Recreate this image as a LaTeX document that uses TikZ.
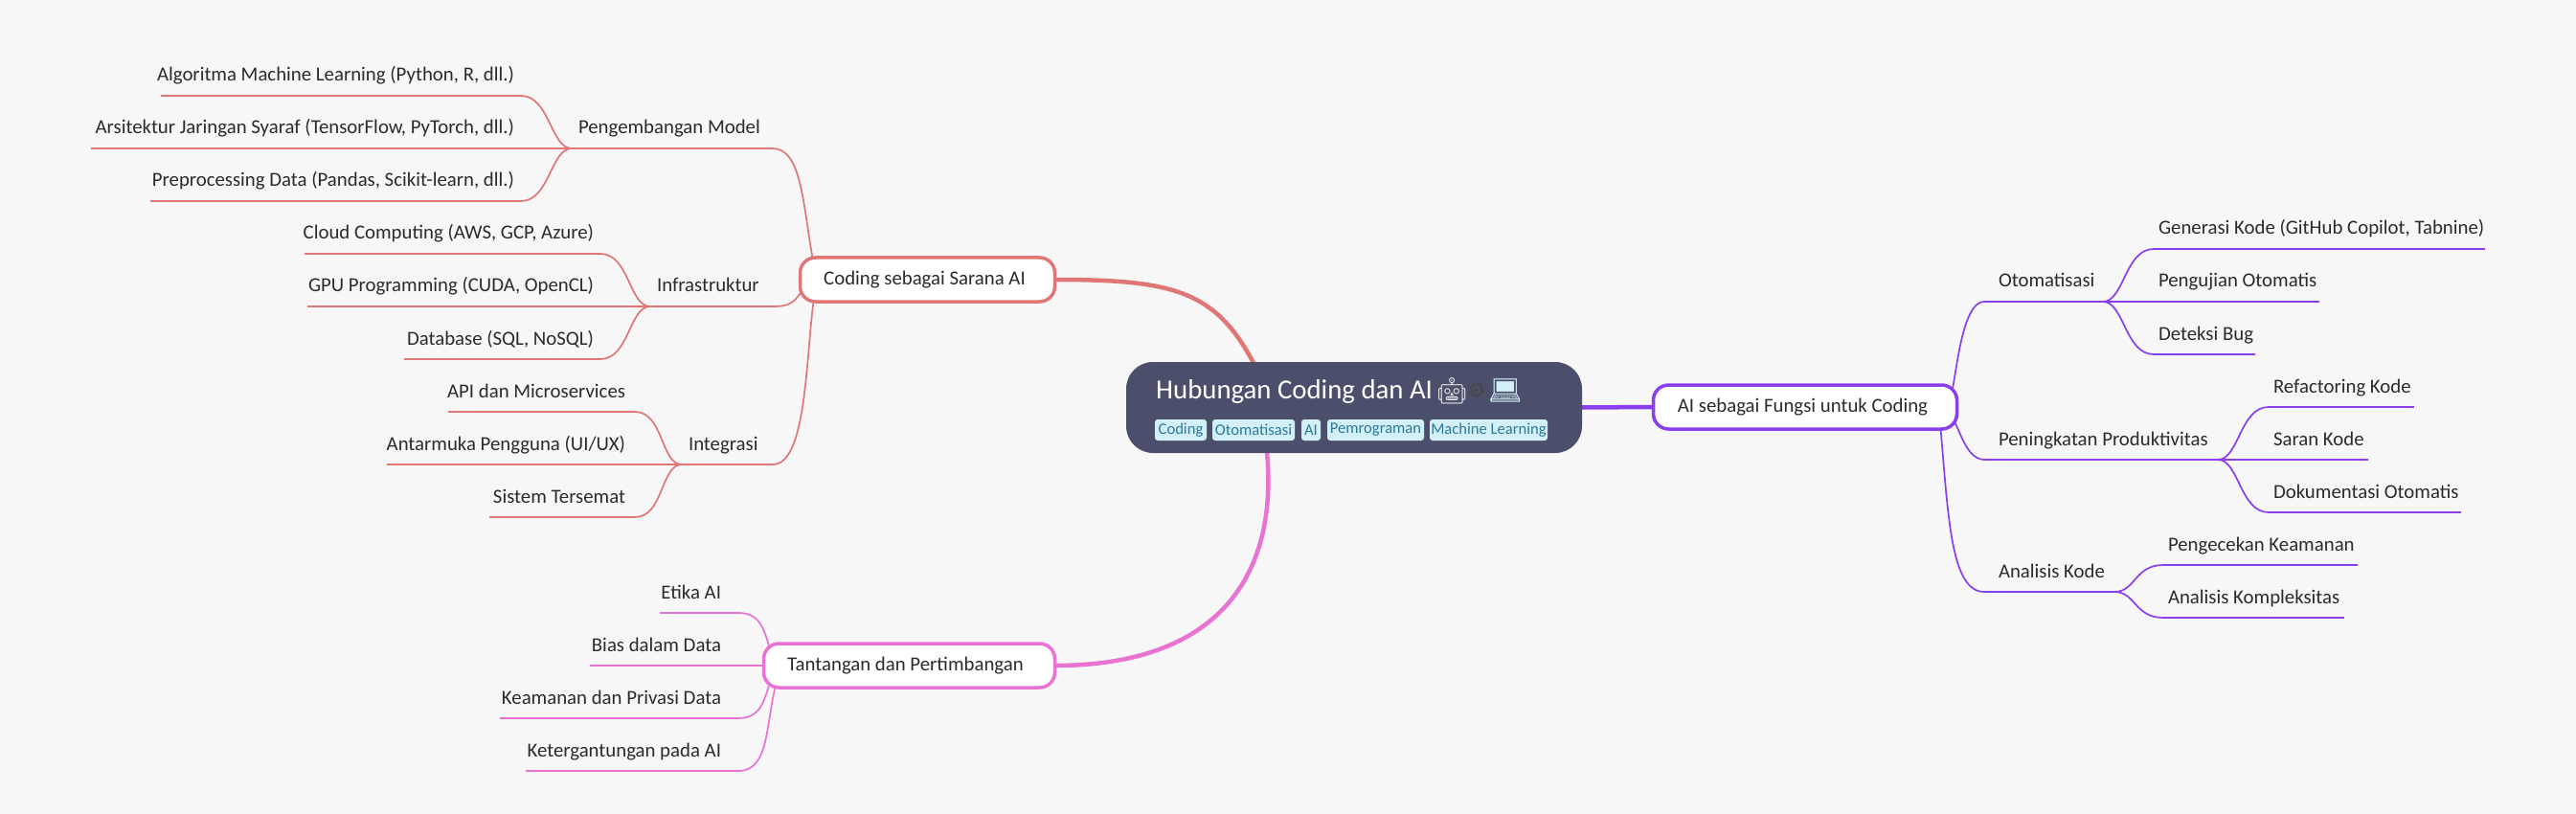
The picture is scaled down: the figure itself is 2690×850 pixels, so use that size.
\documentclass[tikz,border=0pt]{standalone}
\usepackage{fontspec}
\setmainfont{Carlito}
\newfontfamily\emojifont{Noto Emoji}
\newfontfamily\gearfont{DejaVu Sans}
\usetikzlibrary{calc}
\definecolor{bgc}{HTML}{F7F7F7}
\definecolor{cred}{HTML}{E07676}
\definecolor{cpink}{HTML}{E973D2}
\definecolor{cpurp}{HTML}{8A3FEE}
\definecolor{croot}{HTML}{4C4F6B}
\definecolor{ctagf}{HTML}{D3F0F8}
\definecolor{ctagt}{HTML}{2B7A99}
\definecolor{ctxt}{HTML}{2B2B2B}
\pgfdeclarelayer{bgl}\pgfdeclarelayer{conn}\pgfsetlayers{bgl,conn,main}
\newcommand\lbl[5]{\node[lbl,anchor=base #2] (#1) at (#3,#4-15) {#5};}
\newcommand\under[4]{\coordinate (#1L) at (#2,#4);\coordinate (#1R) at (#3,#4);}
\tikzset{
 x=1pt,y=-1pt,
 lbl/.style={inner sep=0pt,outer sep=0pt,text=ctxt,font=\fontsize{20.8}{24}\selectfont},
 topic/.style={draw=#1,fill=white,line width=3.5pt,rounded corners=16pt,inner sep=0pt,outer sep=0pt,text=ctxt,font=\fontsize{20.8}{24}\selectfont,anchor=center},
 tag/.style={fill=ctagf,text=ctagt,rounded corners=3pt,inner sep=0pt,outer sep=0pt,font=\fontsize{16.6}{20}\selectfont,minimum height=22pt,anchor=center},
 leafline/.style={draw=#1,line width=2pt},
 twig/.style={draw=#1,line width=1.7pt},
 thick conn/.style={draw=#1,line width=4.5pt}
}
\begin{document}
\begin{tikzpicture}
\begin{pgfonlayer}{bgl}
\fill[bgc] (0,0) rectangle (2690,850);
\end{pgfonlayer}
\useasboundingbox (0,0) rectangle (2690,850);
% root
\node[fill=croot,rounded corners=28pt,minimum width=476pt,minimum height=95pt,inner sep=0pt,outer sep=0pt,anchor=center] (root) at (1414,425.5) {};
\node[inner sep=0pt,anchor=base west,text=white,font=\fontsize{28.8}{34}\selectfont] (title) at (1207,416.5) {Hubungan Coding dan AI};
\node[inner sep=0pt,anchor=base west,text=black!10!white,font=\fontsize{27}{34}\emojifont] (e1) at (1499,417) {^^^^^^01f916};
\node[inner sep=0pt,anchor=base west,text=black!72,font=\fontsize{22}{34}\gearfont] (e2) at (1532,415) {^^^^2699};
\node[inner sep=0pt,anchor=base west,text=ctagf,font=\fontsize{28}{34}\emojifont] (e3) at (1554,417) {^^^^^^01f4bb};
\node[tag,minimum width=54pt] (t1) at (1233,449) {Coding};
\node[tag,minimum width=86pt] (t2) at (1309,449) {Otomatisasi};
\node[tag,minimum width=20pt] (t3) at (1369,449) {AI};
\node[tag,minimum width=101pt] (t4) at (1436.5,449) {Pemrograman};
\node[tag,minimum width=123pt] (t5) at (1554.5,449) {Machine Learning};
% topics
\node[topic=cred,minimum width=266pt,minimum height=46pt] (coding) at (968.5,292) {Coding sebagai Sarana AI\hspace*{6pt}};
\node[topic=cpink,minimum width=304pt,minimum height=46pt] (tant) at (949.5,695) {Tantangan dan Pertimbangan\hspace*{8pt}};
\node[topic=cpurp,minimum width=317pt,minimum height=46pt] (ai) at (1885,425) {AI sebagai Fungsi untuk Coding\hspace*{5pt}};
% red labels
\lbl{pm}{west}{604}{155}{Pengembangan Model}
\lbl{inf}{west}{686}{320}{Infrastruktur}
\lbl{itg}{west}{719}{485}{Integrasi}
\lbl{a1}{east}{537}{100}{Algoritma Machine Learning (Python, R, dll.)}
\lbl{a2}{east}{537}{155}{Arsitektur Jaringan Syaraf (TensorFlow, PyTorch, dll.)}
\lbl{a3}{east}{537}{210}{Preprocessing Data (Pandas, Scikit-learn, dll.)}
\lbl{b1}{east}{620}{265}{Cloud Computing (AWS, GCP, Azure)}
\lbl{b2}{east}{620}{320}{GPU Programming (CUDA, OpenCL)}
\lbl{b3}{east}{620}{375}{Database (SQL, NoSQL)}
\lbl{c1}{east}{653}{430}{API dan Microservices}
\lbl{c2}{east}{653}{485}{Antarmuka Pengguna (UI/UX)}
\lbl{c3}{east}{653}{540}{Sistem Tersemat}
% pink labels
\lbl{d1}{east}{753}{640}{Etika AI}
\lbl{d2}{east}{753}{695}{Bias dalam Data}
\lbl{d3}{east}{753}{750}{Keamanan dan Privasi Data}
\lbl{d4}{east}{753}{805}{Ketergantungan pada AI}
% purple labels
\lbl{ot}{west}{2087}{315}{Otomatisasi}
\lbl{pk}{west}{2087}{480}{Peningkatan Produktivitas}
\lbl{an}{west}{2087}{618}{Analisis Kode}
\lbl{h1}{west}{2254}{260}{Generasi Kode (GitHub Copilot, Tabnine)}
\lbl{h2}{west}{2254}{315}{Pengujian Otomatis}
\lbl{h3}{west}{2254}{370}{Deteksi Bug}
\lbl{f1}{west}{2374}{425}{Refactoring Kode}
\lbl{f2}{west}{2374}{480}{Saran Kode}
\lbl{f3}{west}{2374}{535}{Dokumentasi Otomatis}
\lbl{g1}{west}{2264}{590}{Pengecekan Keamanan}
\lbl{g2}{west}{2264}{645}{Analisis Kompleksitas}
% underlines: name, left, right, y
\under{ua1}{168}{544}{100}\under{ua2}{95}{600}{155}\under{ua3}{157}{544}{210}
\under{ub1}{318}{627}{265}\under{ub2}{321}{680}{320}\under{ub3}{422}{627}{375}
\under{uc1}{468}{663}{430}\under{uc2}{404}{712}{485}\under{uc3}{511}{663}{540}
\under{upm}{590}{807}{155}\under{uinf}{675}{807}{320}\under{uitg}{708}{807}{485}
\under{ud1}{689}{771}{640}\under{ud2}{616}{800}{695}\under{ud3}{522}{771}{750}\under{ud4}{549}{771}{805}
\under{uot}{2072}{2198}{315}\under{upk}{2072}{2318}{480}\under{uan}{2072}{2210}{618}
\under{uh1}{2249}{2595}{260}\under{uh2}{2194}{2422}{315}\under{uh3}{2249}{2355}{370}
\under{uf1}{2369}{2521}{425}\under{uf2}{2314}{2473}{480}\under{uf3}{2369}{2570}{535}
\under{ug1}{2259}{2462}{590}\under{ug2}{2259}{2448}{645}
% junction points
\coordinate (mA) at (597,155);\coordinate (mB) at (679,320);\coordinate (mC) at (712,485);
\coordinate (mO) at (2196,315);\coordinate (mP) at (2316,480);\coordinate (mN) at (2208,618);
\coordinate (codeT) at ($(coding.north west)+(13,0)$);
\coordinate (codeL) at ($(coding.south west)+(1,-10)$);
\coordinate (codeB) at ($(coding.south west)+(14,0)$);
\coordinate (tantT) at ($(tant.north west)+(6,4)$);
\coordinate (tantB1) at ($(tant.south west)+(6,-4)$);
\coordinate (tantB2) at ($(tant.south west)+(12,0)$);
\coordinate (aiT) at ($(ai.north east)+(-12,0)$);
\coordinate (aiR) at ($(ai.south east)+(-7,-5)$);
\coordinate (aiB) at ($(ai.south east)+(-17,0)$);
\coordinate (rootT) at ($(root.north west)+(133,1)$);
\coordinate (rootB) at ($(root.south west)+(147,-1)$);
\begin{pgfonlayer}{conn}
% thick
\draw[thick conn=cred] (coding.east) .. controls +(125,0) and +(-40,-75) .. (rootT);
\draw[thick conn=cpink] (tant.east) .. controls +(170,0) and +(12,130) .. (rootB);
\draw[thick conn=cpurp] (root.east) -- (ai.west);
% red
\foreach \n in {ua1,ua2,ua3,ub1,ub2,ub3,uc1,uc2,uc3,upm,uinf,uitg}{\draw[leafline=cred] (\n L) -- (\n R);}
\foreach \a/\b in {ua1/mA,ub1/mB,uc1/mC}{\draw[twig=cred] (\a R) .. controls +(30,0) and +(-22,0) .. (\b);}
\foreach \a/\b in {ua3/mA,ub3/mB,uc3/mC}{\draw[twig=cred] (\a R) .. controls +(30,0) and +(-22,0) .. (\b);}
\draw[twig=cred] (upmR) .. controls +(30,0) and +(-10,-55) .. (codeT);
\draw[twig=cred] (uinfR) .. controls +(16,0) and +(-8,12) .. (codeL);
\draw[twig=cred] (uitgR) .. controls +(35,0) and +(-8,60) .. (codeB);
% pink
\foreach \n in {ud1,ud2,ud3,ud4}{\draw[leafline=cpink] (\n L) -- (\n R);}
\draw[twig=cpink] (ud1R) .. controls +(22,0) and +(-6,-20) .. (tantT);
\draw[twig=cpink] (ud3R) .. controls +(22,0) and +(-6,20) .. (tantB1);
\draw[twig=cpink] (ud4R) .. controls +(32,0) and +(-10,40) .. (tantB2);
% purple
\foreach \n in {uot,upk,uan,uh1,uh2,uh3,uf1,uf2,uf3,ug1,ug2}{\draw[leafline=cpurp] (\n L) -- (\n R);}
\draw[twig=cpurp] (uotL) .. controls +(-32,0) and +(10,55) .. (aiT);
\draw[twig=cpurp] (upkL) .. controls +(-24,0) and +(6,-18) .. (aiR);
\draw[twig=cpurp] (uanL) .. controls +(-35,0) and +(8,90) .. (aiB);
\foreach \a/\b in {uh1/mO,uh3/mO,uf1/mP,uf3/mP,ug1/mN,ug2/mN}{\draw[twig=cpurp] (\a L) .. controls +(-30,0) and +(22,0) .. (\b);}
\end{pgfonlayer}
\end{tikzpicture}
\end{document}
